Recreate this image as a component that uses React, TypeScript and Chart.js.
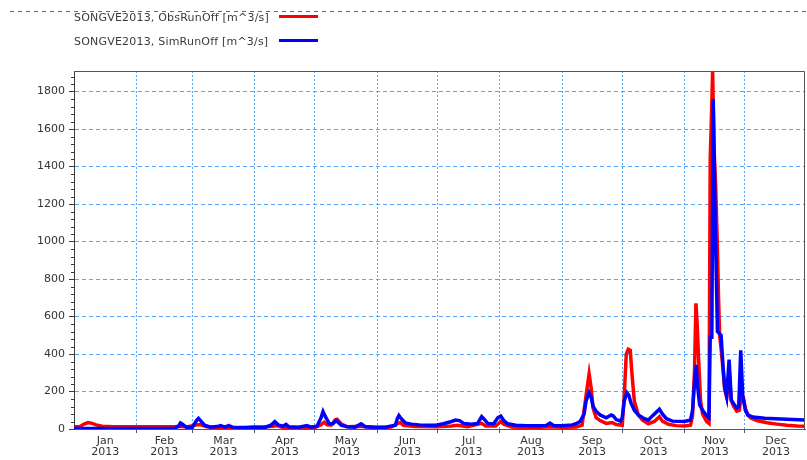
import { useEffect, useRef } from "react";
import { Chart, registerables } from "chart.js";

Chart.register(...registerables);

// ---------- data ----------
const yearLabel = "2013";
const monthLabels = ["Jan", "Feb", "Mar", "Apr", "May", "Jun", "Jul", "Aug", "Sep", "Oct", "Nov", "Dec"];
const monthStarts = [0, 31, 59, 90, 120, 151, 181, 212, 243, 273, 304, 334, 365];
const yTickValues = [0, 200, 400, 600, 800, 1000, 1200, 1400, 1600, 1800];

const obsLabel = "SONGVE2013, ObsRunOff [m^3/s]";
const simLabel = "SONGVE2013, SimRunOff [m^3/s]";

// day of year (0 = 1 Jan) / observed runoff
const obsDays = [
  0, 3, 5, 7, 9, 11, 14, 20, 30, 40, 50, 53, 56, 61, 63, 66, 72, 80, 90, 99, 101, 104, 110, 116, 120,
  123, 124.5, 126, 128, 130, 131, 133, 136, 143, 150, 158, 161, 162.5, 164, 170, 180, 188, 191, 196,
  203, 205, 210, 212.5, 214, 218, 230, 237, 243, 250, 253, 255, 256.5, 257.5, 258.5, 260, 262, 265,
  268, 270, 273, 274, 275, 276, 277, 277.8, 279, 281, 283, 286, 289, 291.5, 293, 296, 300, 304, 307,
  308, 309, 309.7, 310.3, 311, 312, 313, 315, 316.2, 316.8, 317.5, 318, 318.7, 319.5, 320.3, 320.9,
  321.5, 322.5, 323.3, 324, 325, 326.3, 327.3, 328.5, 330, 331.3, 332.3, 333.3, 334.3, 335.5, 337,
  340, 345, 350, 355, 360, 364,
];
const obsValues = [
  12, 13, 26, 34, 30, 22, 15, 12, 12, 12, 12, 14, 11, 22, 24, 12, 8, 7, 7, 15, 18, 8, 7, 10, 8,
  22, 36, 22, 20, 48, 52, 28, 12, 14, 8, 10, 28, 35, 20, 13, 12, 16, 20, 12,
  30, 16, 16, 40, 25, 10, 8, 12, 9, 10, 20, 180, 294, 220, 110, 60, 45, 30,
  34, 24, 20, 180, 400, 426, 420, 300, 150, 75, 48, 28, 40, 66, 42, 25, 18, 16, 20,
  70, 320, 671, 560, 380, 150, 80, 40, 30, 1440, 1700, 1910, 1500, 1300, 1000, 720,
  500, 400, 300, 210, 170, 300, 150, 120, 95, 100, 185, 170, 110, 75, 58,
  45, 33, 26, 20, 16, 14,
];

// day of year / simulated runoff
const simDays = [
  0, 5, 10, 20, 30, 40, 50, 52, 53, 54, 56, 59, 61, 62, 63, 65, 68, 72, 73, 75, 77, 79, 85, 90, 95,
  98, 100, 102, 104, 105.6, 107, 112, 116, 118, 121, 123, 124, 125, 127, 129, 130.5, 133, 136, 140,
  143, 145, 150, 155, 160, 161, 161.8, 163, 165, 168, 172, 176, 180, 184, 188, 190, 192, 194, 198,
  201, 203, 204, 206, 209, 211, 212.5, 214, 216, 220, 225, 230, 235, 237, 239, 243, 248, 250, 252,
  254, 255, 256.5, 257.5, 258.5, 260, 262, 265, 267.5, 268.5, 270, 272, 273, 274, 275.3, 276.3,
  277.3, 279, 281, 284, 286, 288, 290, 291.5, 293, 295, 298, 304, 307, 308, 309, 309.8, 310.5,
  311.5, 313, 314, 315, 316.2, 316.8, 317.6, 318.3, 319.3, 320.4, 321.3, 322.2, 323.2, 324, 325,
  326.2, 327.3, 328.3, 330, 331, 332, 333, 334.3, 335.5, 338, 344, 352, 364,
];
const simValues = [
  4, 3, 3, 3, 3, 3, 4, 14, 32, 25, 10, 10, 45, 57, 45, 20, 10, 15, 18, 10, 18, 10, 8, 10, 8,
  20, 39, 20, 15, 25, 12, 10, 18, 10, 15, 60, 93, 70, 30, 28, 45, 20, 12, 10,
  28, 12, 10, 10, 20, 55, 72, 55, 32, 26, 22, 20, 20, 28, 40, 48, 45, 30, 25,
  30, 66, 55, 30, 28, 60, 69, 45, 28, 20, 18, 17, 18, 32, 18, 18, 22, 28, 40,
  80, 150, 194, 170, 120, 95, 75, 60, 75, 70, 50, 42, 60, 150, 194, 180,
  140, 100, 75, 55, 48, 70, 90, 105, 80, 55, 42, 40, 48, 100, 250, 342, 230,
  130, 100, 85, 70, 60, 490, 490, 1760, 1100, 520, 510, 500, 333, 226, 175,
  370, 155, 138, 112, 118, 420, 175, 100, 75, 64, 58, 54, 48,
];

const X_MAX = 364;
const Y_MAX = 1910;

const GRID_BLUE = "rgba(60,150,255,0.85)";
const AXIS_DARK = "#3a3a3a";
const FONT = "'DejaVu Sans', 'Liberation Sans', Arial, sans-serif";

export default function App() {
  const canvasRef = useRef<HTMLCanvasElement>(null);

  useEffect(() => {
    const canvas = canvasRef.current;
    if (!canvas) return;

    const boundaries = monthStarts.slice(1, 12);
    const mids = monthLabels.map((_, i) => (monthStarts[i] + monthStarts[i + 1]) / 2);
    const isBoundary = (v: number) => boundaries.some((b) => Math.abs(b - v) < 1e-6);
    const midIndex = (v: number) => mids.findIndex((m) => Math.abs(m - v) < 1e-6);

    const framePlugin = {
      id: "frameAndMinor",
      afterDraw(chart: any) {
        const { ctx, chartArea } = chart;
        const ys = chart.scales.y;
        ctx.save();
        ctx.strokeStyle = AXIS_DARK;
        ctx.lineWidth = 1;
        for (let v = 40; v < Y_MAX; v += 40) {
          if (v % 200 === 0) continue;
          const y = Math.round(ys.getPixelForValue(v)) + 0.5;
          ctx.beginPath();
          ctx.moveTo(chartArea.left - 3, y);
          ctx.lineTo(chartArea.left, y);
          ctx.stroke();
        }
        ctx.strokeStyle = "#555";
        ctx.beginPath();
        ctx.moveTo(chartArea.left, chartArea.top + 0.5);
        ctx.lineTo(chartArea.right - 0.5, chartArea.top + 0.5);
        ctx.lineTo(chartArea.right - 0.5, chartArea.bottom);
        ctx.stroke();
        ctx.restore();
      },
    };

    const chart = new Chart(canvas, {
      type: "line",
      data: {
        datasets: [
          {
            label: simLabel,
            data: simDays.map((d, i) => ({ x: d, y: simValues[i] })),
            borderColor: "#0000ff",
            borderWidth: 3.5,
            pointRadius: 0,
            tension: 0,
            fill: false,
            order: 0,
          },
          {
            label: obsLabel,
            data: obsDays.map((d, i) => ({ x: d, y: obsValues[i] })),
            borderColor: "#ff0000",
            borderWidth: 3.5,
            pointRadius: 0,
            tension: 0,
            fill: false,
            order: 1,
          },
        ],
      },
      options: {
        animation: false,
        responsive: false,
        maintainAspectRatio: false,
        parsing: false as any,
        layout: { padding: { left: 0, top: 71, right: 2, bottom: 0 } },
        plugins: {
          legend: { display: false },
          tooltip: { enabled: false },
        },
        scales: {
          x: {
            type: "linear",
            min: 0,
            max: X_MAX,
            afterBuildTicks(scale: any) {
              const vals = [...boundaries, ...mids].sort((a, b) => a - b);
              scale.ticks = vals.map((v) => ({ value: v }));
            },
            afterFit(scale: any) {
              scale.height = 31;
            },
            ticks: {
              autoSkip: false,
              maxRotation: 0,
              minRotation: 0,
              padding: 3,
              color: "#333",
              font: { family: FONT, size: 11, lineHeight: 1.0 },
              callback(value: any) {
                const i = midIndex(Number(value));
                return i >= 0 ? [monthLabels[i], yearLabel] : "";
              },
            },
            grid: {
              color: (ctx: any) => (ctx.tick && isBoundary(ctx.tick.value) ? GRID_BLUE : "rgba(0,0,0,0)"),
              tickColor: (ctx: any) => (ctx.tick && isBoundary(ctx.tick.value) ? "#555" : "rgba(0,0,0,0)"),
              lineWidth: 1,
              tickLength: 4,
              drawTicks: true,
            },
            border: { display: true, color: "#555", width: 1, dash: [2, 2] },
          },
          y: {
            type: "linear",
            min: 0,
            max: Y_MAX,
            afterBuildTicks(scale: any) {
              scale.ticks = yTickValues.map((v) => ({ value: v }));
            },
            afterFit(scale: any) {
              scale.width = 74;
            },
            ticks: {
              padding: 4,
              color: "#333",
              font: { family: FONT, size: 11 },
              callback: (value: any) => String(value),
            },
            grid: {
              color: (ctx: any) => (ctx.tick && ctx.tick.value !== 0 ? GRID_BLUE : "rgba(0,0,0,0)"),
              tickColor: AXIS_DARK,
              lineWidth: 1,
              tickLength: 5,
            },
            border: { display: true, color: AXIS_DARK, width: 1, dash: [4, 3] },
          },
        },
      },
      plugins: [framePlugin],
    });

    return () => chart.destroy();
  }, []);

  const textStyle: any = {
    position: "absolute",
    left: 74,
    font: `11px ${FONT}`,
    color: "#3a3a3a",
    whiteSpace: "nowrap",
    lineHeight: "13px",
    letterSpacing: "0.2px",
  };

  return (
    <div style={{ position: "fixed", left: 0, top: 0, width: 807, height: 460, background: "#fff", overflow: "hidden" }}>
      <canvas ref={canvasRef} width={807} height={460} style={{ position: "absolute", left: 0, top: 0, width: 807, height: 460 }} />
      <div style={{ ...textStyle, top: 11 }}>{obsLabel}</div>
      <div style={{ position: "absolute", left: 279, top: 15, width: 39, height: 3, background: "#ff0000" }} />
      <div style={{ ...textStyle, top: 35 }}>{simLabel}</div>
      <div style={{ position: "absolute", left: 279, top: 39, width: 39, height: 3, background: "#0000ff" }} />
      <svg width={807} height={14} style={{ position: "absolute", left: 0, top: 5 }}>
        <line x1={10} y1={6.5} x2={807} y2={6.5} stroke="#e83030" strokeWidth={1} strokeDasharray="4 4" />
      </svg>
    </div>
  );
}
